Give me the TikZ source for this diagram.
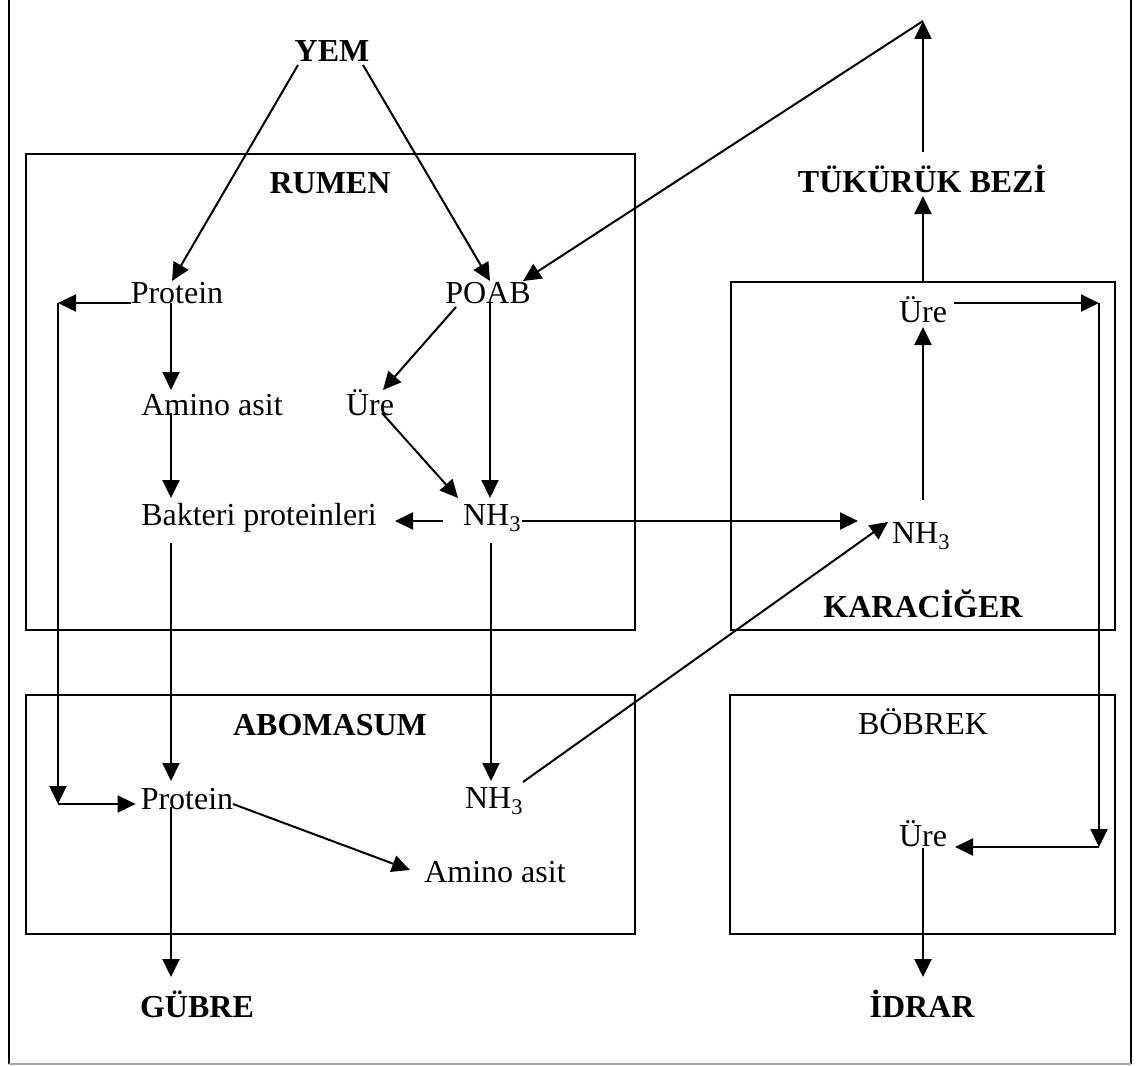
\documentclass[tikz,border=0pt]{standalone}
\usepackage{fontspec}
\setmainfont{Liberation Serif}
\usetikzlibrary{arrows.meta,calc}

\begin{document}
\begin{tikzpicture}[x=1pt,y=-1pt,
    font=\fontsize{32}{38}\selectfont,
    lbl/.style={anchor=base,inner sep=0pt},
    head/.style={lbl,font=\fontsize{32}{38}\selectfont\bfseries},
    organ/.style={draw,line width=2pt,inner sep=0pt},
    flow/.style={line width=2pt,-{Triangle[length=18pt,width=17pt]}},
    link/.style={line width=2pt}]
\useasboundingbox (0,0) rectangle (1137,1065);

% outer frame
\draw[link] (9,-5) -- (9,1064);
\draw[link] (1131,-5) -- (1131,1064);
\draw[line width=1.4pt,black!35] (9,1064) -- (1131,1064);

% organs
\node[organ,minimum width=609pt,minimum height=476pt] (rumen) at (330.5,392) {};
\node[organ,minimum width=384pt,minimum height=348pt] (karaciger) at (923,456) {};
\node[organ,minimum width=609pt,minimum height=239pt] (abomasum) at (330.5,814.5) {};
\node[organ,minimum width=385pt,minimum height=239pt] (bobrek) at (922.5,814.5) {};

% titles
\node[head] (yem) at (332,61) {YEM};
\node[head] (rumenL) at (330,193) {RUMEN};
\node[head] (tukuruk) at (922,192) {TÜKÜRÜK BEZİ};
\node[head] (karacigerL) at (923,617) {KARACİĞER};
\node[head] (abomasumL) at (330,735) {ABOMASUM};
\node[lbl] (bobrekL) at (923,734) {BÖBREK};
\node[head] (gubre) at (197,1017) {GÜBRE};
\node[head] (idrar) at (922,1017) {İDRAR};

% substances
\node[lbl] (protR) at (177,303) {Protein};
\node[lbl] (poab) at (488,303) {POAB};
\node[lbl] (aminoR) at (212,415) {Amino asit};
\node[lbl] (ureR) at (370,415) {Üre};
\node[lbl] (bakteri) at (259,525) {Bakteri proteinleri};
\node[lbl] (nhR) at (492,525) {NH\textsubscript{3}};
\node[lbl] (ureK) at (923,322) {Üre};
\node[lbl] (nhK) at (921,543) {NH\textsubscript{3}};
\node[lbl] (protA) at (187,809) {Protein};
\node[lbl] (nhA) at (494,808) {NH\textsubscript{3}};
\node[lbl] (aminoA) at (495,882) {Amino asit};
\node[lbl] (ureB) at (923,846) {Üre};

% bends
\coordinate (tepe) at (923,21);
\coordinate (solust) at (58,303);
\coordinate (solalt) at (58,804);
\coordinate (sagust) at (1099,303);
\coordinate (sagalt) at (1099,847);

% feed
\draw[flow] ($(yem.base)+(-34,4)$) -- ($(protR.base)+(-5,-22)$);
\draw[flow] ($(yem.base)+(31,4)$) -- ($(poab.base)+(2,-22)$);

% saliva
\draw[flow] (karaciger.north) -- ($(tukuruk.base)+(1,4)$);
\draw[flow] ($(tukuruk.base)+(1,-40)$) -- (tepe);
\draw[flow] (tepe) -- ($(poab.base)+(35,-22)$);

% rumen
\draw[flow] (protR.base west) -- (solust);
\draw[flow] (solust) -- (solalt);
\draw[flow] (solalt) -- ($(protA.base west)+(-5,-5)$);
\draw[flow] ($(protR.base)+(-6,0)$) -- ($(aminoR.base)+(-41,-25)$);
\draw[flow] ($(aminoR.base)+(-41,-2)$) -- ($(bakteri.base)+(-88,-27)$);
\draw[flow] ($(poab.base)+(-32,4)$) -- ($(ureR.base)+(13,-25)$);
\draw[flow] ($(poab.base)+(2,0)$) -- ($(nhR.base)+(-2,-27)$);
\draw[flow] ($(ureR.base)+(12,-2)$) -- ($(nhR.base)+(-34,-27)$);
\draw[flow] ($(nhR.base)+(-49,-4)$) -- ($(bakteri.base)+(136,-4)$);

% to abomasum and liver
\draw[flow] ($(bakteri.base)+(-88,18)$) -- ($(protA.base)+(-16,-28)$);
\draw[flow] ($(nhR.base)+(-1,18)$) -- ($(nhA.base)+(-3,-27)$);
\draw[flow] ($(nhR.base)+(30,-4)$) -- ($(nhK.base)+(-63,-22)$);
\draw[flow] ($(nhA.base)+(29,-26)$) -- ($(nhK.base)+(-33,-21)$);

% abomasum
\draw[flow] ($(protA.base)+(46,-5)$) -- ($(aminoA.base)+(-85,-12)$);
\draw[flow] ($(protA.base)+(-16,-2)$) -- ($(gubre.base)+(-26,-40)$);

% liver and kidney
\draw[flow] ($(nhK.base)+(2,-43)$) -- ($(ureK.base)+(0,5)$);
\draw[flow] ($(ureK.base)+(31,-19)$) -- (sagust);
\draw[flow] (sagust) -- (sagalt);
\draw[flow] (sagalt) -- ($(ureB.base)+(32,1)$);
\draw[flow] ($(ureB.base)+(0,2)$) -- ($(idrar.base)+(1,-40)$);
\end{tikzpicture}
\end{document}
